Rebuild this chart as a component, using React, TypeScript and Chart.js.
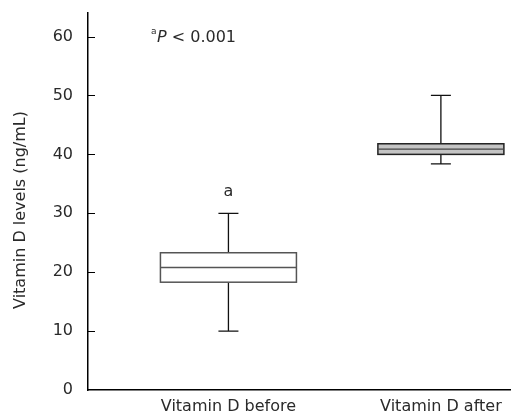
import React, { useEffect, useRef } from "react";
import { Chart, registerables } from "chart.js";

Chart.register(...registerables);

const categories = ["Vitamin D before", "Vitamin D after"];
const whiskerLow = [10, 38.4];
const q1 = [18.3, 40.0];
const median = [20.8, 40.9];
const q3 = [23.3, 41.8];
const whiskerHigh = [30, 50];
const yTicks = [0, 10, 20, 30, 40, 50, 60];
const yTitle = "Vitamin D levels (ng/mL)";
const markLabel = "a";
const markValue = 33.7;
const pLabelSup = "a";
const pLabelVar = "P";
const pLabelRest = " < 0.001";

const FONT = "'DejaVu Sans', sans-serif";
const BOX_HALF = [68, 63];
const CAP_HALF = 10;
const BOX_FILL = ["#ffffff", "#c4c4c4"];
const BOX_STROKE = ["#555555", "#222222"];
const MEDIAN_STROKE = ["#555555", "#444444"];
const TEXT = "#2a2a2a";

const boxPlugin = {
  id: "boxPlugin",
  afterDatasetsDraw(chart: any) {
    const { ctx, chartArea } = chart;
    const xs = chart.scales.x;
    const ys = chart.scales.y;
    ctx.save();
    // inward tick marks on y axis
    ctx.strokeStyle = "#000";
    ctx.lineWidth = 1;
    yTicks.forEach((v) => {
      if (v === 0) return;
      const y = Math.round(ys.getPixelForValue(v)) + 0.5;
      ctx.beginPath();
      ctx.moveTo(chartArea.left, y);
      ctx.lineTo(chartArea.left + 7, y);
      ctx.stroke();
    });
    categories.forEach((_, i) => {
      const cx = xs.getPixelForValue(i + 1);
      const yLo = ys.getPixelForValue(whiskerLow[i]);
      const yQ1 = ys.getPixelForValue(q1[i]);
      const yMed = ys.getPixelForValue(median[i]);
      const yQ3 = ys.getPixelForValue(q3[i]);
      const yHi = ys.getPixelForValue(whiskerHigh[i]);
      ctx.strokeStyle = "#111";
      ctx.lineWidth = 1.3;
      ctx.beginPath();
      ctx.moveTo(cx, yHi);
      ctx.lineTo(cx, yQ3);
      ctx.moveTo(cx, yQ1);
      ctx.lineTo(cx, yLo);
      ctx.moveTo(cx - CAP_HALF, yHi);
      ctx.lineTo(cx + CAP_HALF, yHi);
      ctx.moveTo(cx - CAP_HALF, yLo);
      ctx.lineTo(cx + CAP_HALF, yLo);
      ctx.stroke();
      const half = BOX_HALF[i];
      ctx.fillStyle = BOX_FILL[i];
      ctx.fillRect(cx - half, yQ3, half * 2, yQ1 - yQ3);
      ctx.strokeStyle = BOX_STROKE[i];
      ctx.lineWidth = 1.5;
      ctx.strokeRect(cx - half, yQ3, half * 2, yQ1 - yQ3);
      ctx.strokeStyle = MEDIAN_STROKE[i];
      ctx.lineWidth = 1.3;
      ctx.beginPath();
      ctx.moveTo(cx - half, yMed);
      ctx.lineTo(cx + half, yMed);
      ctx.stroke();
    });
    // significance mark
    ctx.fillStyle = TEXT;
    ctx.font = `16px ${FONT}`;
    ctx.textAlign = "center";
    ctx.textBaseline = "middle";
    ctx.fillText(markLabel, xs.getPixelForValue(1), ys.getPixelForValue(markValue));
    // P annotation
    ctx.textAlign = "left";
    ctx.textBaseline = "alphabetic";
    let x = 151;
    ctx.font = `9px ${FONT}`;
    ctx.fillText(pLabelSup, x, 34);
    x += ctx.measureText(pLabelSup).width + 0.5;
    ctx.font = `italic 16px ${FONT}`;
    ctx.fillText(pLabelVar, x, 42);
    x += ctx.measureText(pLabelVar).width;
    ctx.font = `16px ${FONT}`;
    ctx.fillText(pLabelRest, x, 42);
    // y title
    ctx.save();
    ctx.translate(21, 210);
    ctx.rotate(-Math.PI / 2);
    ctx.textAlign = "center";
    ctx.textBaseline = "middle";
    ctx.font = `16px ${FONT}`;
    ctx.fillText(yTitle, 0, 0);
    ctx.restore();
    ctx.restore();
  },
};

export default function App() {
  const ref = useRef<HTMLCanvasElement>(null);
  useEffect(() => {
    document.body.style.margin = "0";
    const chart = new Chart(ref.current!, {
      type: "scatter",
      data: {
        datasets: [
          {
            data: categories.map((_, i) => ({ x: i + 1, y: median[i] })),
            pointRadius: 0,
            showLine: false,
          },
        ],
      },
      options: {
        animation: false,
        responsive: false,
        devicePixelRatio: 1,
        layout: { padding: { top: 13, right: 0, left: 0, bottom: 0 } },
        plugins: { legend: { display: false }, tooltip: { enabled: false } },
        scales: {
          x: {
            type: "linear",
            min: 0.339,
            max: 2.33,
            grid: { display: false },
            border: { display: true, color: "#000", width: 1.5 },
            afterBuildTicks: (axis: any) => {
              axis.ticks = categories.map((_, i) => ({ value: i + 1 }));
            },
            afterFit: (s: any) => {
              s.height = 26;
              s.paddingLeft = 0;
              s.paddingRight = 0;
            },
            ticks: {
              autoSkip: false,
              maxRotation: 0,
              padding: -1,
              color: TEXT,
              font: { family: FONT, size: 16 },
              callback: (_v: any, i: number) => categories[i],
            },
          },
          y: {
            min: 0,
            max: 64,
            grid: { display: false },
            border: { display: true, color: "#000", width: 1.5 },
            afterBuildTicks: (axis: any) => {
              axis.ticks = yTicks.map((v) => ({ value: v }));
            },
            afterFit: (s: any) => {
              s.width = 88;
              s.paddingTop = 0;
              s.paddingBottom = 0;
            },
            ticks: {
              padding: 7,
              color: TEXT,
              font: { family: FONT, size: 16 },
            },
          },
        },
      },
      plugins: [boxPlugin],
    } as any);
    return () => chart.destroy();
  }, []);
  return <canvas ref={ref} width={511} height={416} style={{ display: "block" }} />;
}
